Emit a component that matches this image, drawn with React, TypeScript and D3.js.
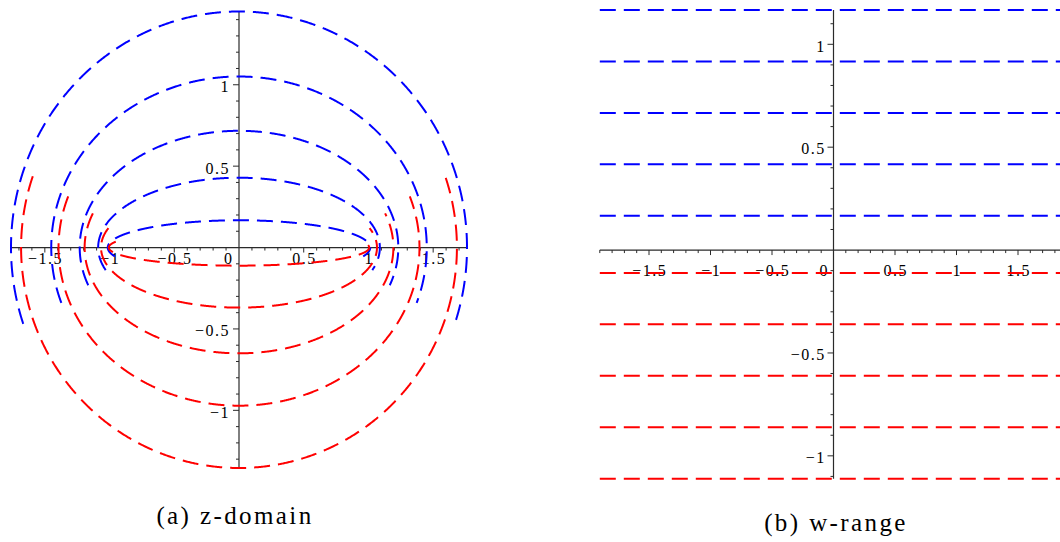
import React from 'react';
import * as d3 from 'd3';

// Horizontal lines v = const in the w-plane (w = u + i v)
const upperLevels = [0.1667, 0.4167, 0.6667, 0.9167, 1.1667];
const lowerLevels = [-0.1111, -0.3611, -0.6111, -0.8611, -1.1111];
const uSpan: [number, number] = [-1.9, 1.9];

// Axis labels
const xLabelTicks = [-1.5, -1, -0.5, 0, 0.5, 1, 1.5];
const yLabelTicks = [-1, -0.5, 0.5, 1];
const captions = ['(a) z-domain', '(b) w-range'];

const BLUE = '#0000ff';
const RED = '#ff0000';
const AXIS = '#2a2a2a';
const LABEL_FONT = 'Liberation Serif, DejaVu Serif, serif';

type Pt = [number, number];

const fmt = (t: number) => (t < 0 ? '\u2212' + String(-t) : String(t));

// u samples along one w-line
const uSamples = d3.range(uSpan[0], uSpan[1] + 1e-9, 0.004);

// Image of the line v = const under z = sin(w)
function zCurve(v: number): Pt[] {
  return uSamples.map((u) => [Math.sin(u) * Math.cosh(v), Math.cos(u) * Math.sinh(v)] as Pt);
}

function wLine(v: number): Pt[] {
  return [
    [uSpan[0], v],
    [uSpan[1], v],
  ];
}

const labelStyle: React.CSSProperties = { fontFamily: LABEL_FONT, fontSize: '16px', letterSpacing: '1.5px' };
const captionStyle: React.CSSProperties = { fontFamily: LABEL_FONT, fontSize: '25px', letterSpacing: '2.4px' };

interface AxesProps {
  x: d3.ScaleLinear<number, number>;
  y: d3.ScaleLinear<number, number>;
  xLabelBaseline: number; // offset of x labels below the axis
  zeroDx: number; // horizontal shift of the origin label
  yLabelGap: number; // gap between y labels and the axis
  yLabelDy: number;
}

function Axes({ x, y, xLabelBaseline, zeroDx, yLabelGap, yLabelDy }: AxesProps) {
  const [x0d, x1d] = x.domain();
  const [y0d, y1d] = y.domain();
  const ax = x(0);
  const ay = y(0);
  const xMinor = d3.range(Math.ceil(x0d * 10), Math.floor(x1d * 10) + 1).filter((i) => i !== 0);
  const yMinor = d3.range(Math.ceil(y0d * 10), Math.floor(y1d * 10) + 1).filter((i) => i !== 0);
  return (
    <g>
      <line x1={x(x0d)} x2={x(x1d)} y1={ay} y2={ay} stroke={AXIS} strokeWidth={1.2} />
      <line x1={ax} x2={ax} y1={y(y0d)} y2={y(y1d)} stroke={AXIS} strokeWidth={1.2} />
      {xMinor.map((i) => (
        <line
          key={'xt' + i}
          x1={x(i / 10)}
          x2={x(i / 10)}
          y1={ay}
          y2={ay + (i % 5 === 0 ? 5 : 3)}
          stroke={AXIS}
          strokeWidth={1}
        />
      ))}
      {yMinor.map((i) => (
        <line
          key={'yt' + i}
          x1={ax - (i % 5 === 0 ? 6 : 3)}
          x2={ax}
          y1={y(i / 10)}
          y2={y(i / 10)}
          stroke={AXIS}
          strokeWidth={1}
        />
      ))}
      {xLabelTicks.map((t) => (
        <text
          key={'xl' + t}
          x={x(t) + (t === 0 ? zeroDx : 0) + 0.75}
          y={ay + xLabelBaseline}
          textAnchor="middle"
          style={labelStyle}
          fill="#000"
        >
          {fmt(t)}
        </text>
      ))}
      {yLabelTicks.map((t) => (
        <text
          key={'yl' + t}
          x={ax - yLabelGap + 1.5}
          y={y(t) + yLabelDy}
          textAnchor="end"
          style={labelStyle}
          fill="#000"
        >
          {fmt(t)}
        </text>
      ))}
    </g>
  );
}

export default function App() {
  const upperZ = upperLevels.map(zCurve);
  const lowerZ = lowerLevels.map(zCurve);
  const allZ = [...upperZ, ...lowerZ].flat();

  // z-domain panel
  const xz = d3.scaleLinear().domain(d3.extent(allZ, (p) => p[0]) as [number, number]).range([11, 467]);
  const yz = d3.scaleLinear().domain(d3.extent(allZ, (p) => p[1]) as [number, number]).range([468, 11.5]);

  // w-range panel
  const allLevels = [...upperLevels, ...lowerLevels];
  const xw = d3.scaleLinear().domain(uSpan).range([599.8, 1067.2]);
  const yw = d3.scaleLinear().domain(d3.extent(allLevels) as [number, number]).range([478.7, 10]);

  const lineZ = d3
    .line<Pt>()
    .x((p) => xz(p[0]))
    .y((p) => yz(p[1]));
  const lineW = d3
    .line<Pt>()
    .x((p) => xw(p[0]))
    .y((p) => yw(p[1]));

  const dash = '16 8';

  return (
    <svg
      width={1060}
      height={542}
      viewBox="0 0 1060 542"
      style={{ position: 'fixed', left: 0, top: 0, background: '#fff' }}
    >
      <rect x={0} y={0} width={1060} height={542} fill="#fff" />

      <Axes x={xz} y={yz} xLabelBaseline={16.2} zeroDx={-11} yLabelGap={10.5} yLabelDy={7.4} />
      {upperZ.map((c, i) => (
        <path key={'uz' + i} d={lineZ(c) || ''} fill="none" stroke={BLUE} strokeWidth={2} strokeDasharray={dash} />
      ))}
      {lowerZ.map((c, i) => (
        <path key={'lz' + i} d={lineZ(c) || ''} fill="none" stroke={RED} strokeWidth={2} strokeDasharray={dash} />
      ))}

      <Axes x={xw} y={yw} xLabelBaseline={25.7} zeroDx={-10} yLabelGap={9.3} yLabelDy={7.2} />
      {upperLevels.map((v, i) => (
        <path key={'uw' + i} d={lineW(wLine(v)) || ''} fill="none" stroke={BLUE} strokeWidth={2} strokeDasharray={dash} />
      ))}
      {lowerLevels.map((v, i) => (
        <path key={'lw' + i} d={lineW(wLine(v)) || ''} fill="none" stroke={RED} strokeWidth={2} strokeDasharray={dash} />
      ))}

      <text x={235} y={523.5} textAnchor="middle" style={captionStyle} fill="#000">
        {captions[0]}
      </text>
      <text x={836} y={530.5} textAnchor="middle" style={captionStyle} fill="#000">
        {captions[1]}
      </text>
    </svg>
  );
}
